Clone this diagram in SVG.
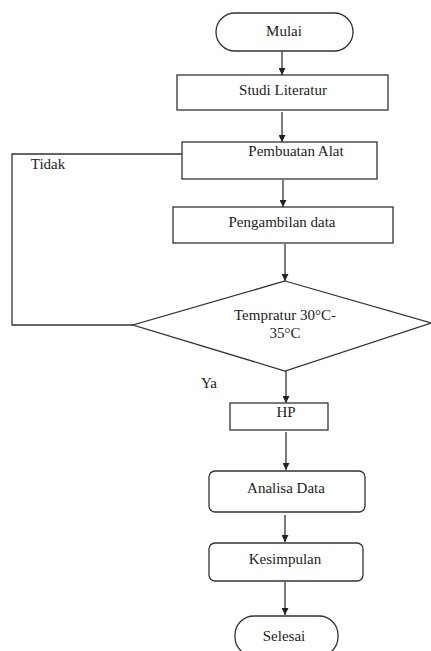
<svg xmlns="http://www.w3.org/2000/svg" width="431" height="651" viewBox="0 0 431 651">
<style>
.s{fill:#fff;stroke:#333;stroke-width:1.3}
.t{font-size:15px;fill:#222;text-anchor:middle}
.l{fill:none;stroke:#333;stroke-width:1.3}
</style>
<defs>
<marker id="a" viewBox="0 0 10 10" refX="10" refY="5" markerWidth="7" markerHeight="7" orient="auto" markerUnits="userSpaceOnUse"><path d="M0,0L10,5L0,10z" fill="#222"/></marker>
</defs>
<rect width="431" height="651" fill="#fff"/>
<g id="connectors" class="l">
<line x1="282" y1="51" x2="282" y2="75" marker-end="url(#a)"/>
<line x1="282" y1="112" x2="282" y2="142" marker-end="url(#a)"/>
<line x1="283" y1="180" x2="283" y2="207" marker-end="url(#a)"/>
<line x1="285" y1="244" x2="285" y2="281" marker-end="url(#a)"/>
<polyline points="133,325 12,325 12,154 192,154" marker-end="url(#a)"/>
<line x1="286" y1="371" x2="286" y2="403" marker-end="url(#a)"/>
<line x1="286" y1="432" x2="286" y2="470" marker-end="url(#a)"/>
<line x1="285" y1="515" x2="285" y2="542" marker-end="url(#a)"/>
<line x1="285" y1="582" x2="285" y2="615" marker-end="url(#a)"/>
</g>
<g font-family="Liberation Serif, Times New Roman, serif">
<g id="mulai"><rect class="s" x="216" y="13" width="137" height="38" rx="19"/><text class="t" x="284" y="36">Mulai</text></g>
<g id="studi"><rect class="s" x="177" y="75" width="211" height="35"/><text class="t" x="283" y="95">Studi Literatur</text></g>
<g id="pembuatan"><rect class="s" x="182" y="142" width="195" height="37"/><text class="t" x="296" y="156">Pembuatan Alat</text></g>
<g id="pengambilan"><rect class="s" x="173" y="207" width="220" height="36"/><text class="t" x="282" y="227">Pengambilan  data</text></g>
<g id="temp"><polygon class="s" points="285,281 431,323 285,371 133,325"/><text class="t" x="285" y="320">Tempratur 30°C-</text><text class="t" x="285" y="338">35°C</text></g>
<g id="hp"><rect class="s" x="230" y="403" width="98" height="27"/><text class="t" x="286" y="417">HP</text></g>
<g id="analisa"><rect class="s" x="209" y="471" width="156" height="41" rx="6"/><text class="t" x="286" y="493">Analisa Data</text></g>
<g id="kesimpulan"><rect class="s" x="209" y="543" width="154" height="38" rx="6"/><text class="t" x="285" y="564">Kesimpulan</text></g>
<g id="selesai"><rect class="s" x="235" y="616" width="103" height="40" rx="19"/><text class="t" x="284" y="641">Selesai</text></g>
<g id="labels"><text class="t" x="48" y="169">Tidak</text><text class="t" x="209" y="388">Ya</text></g>
</g>
</svg>
